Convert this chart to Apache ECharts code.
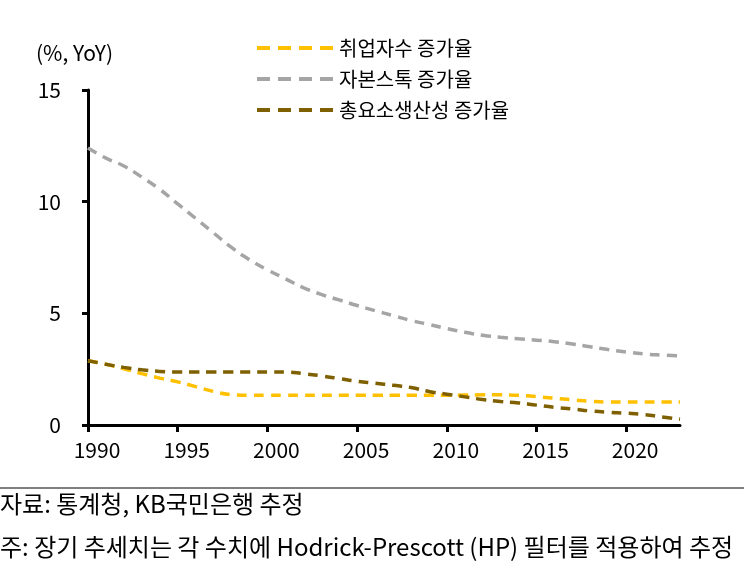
<!DOCTYPE html>
<html>
<head>
<meta charset="utf-8">
<script src="https://cdn.jsdelivr.net/npm/echarts@6/dist/echarts.min.js"></script>
<style>
    html, body { margin: 0; padding: 0; background: #fff; }
    #chart { width: 744px; height: 575px; }
</style>
</head>
<body>
<div id="chart"></div>
<script>
// 연도 (1990~2023)
const years = [1990, 1991, 1992, 1993, 1994, 1995, 1996, 1997, 1998, 1999,
    2000, 2001, 2002, 2003, 2004, 2005, 2006, 2007, 2008, 2009,
    2010, 2011, 2012, 2013, 2014, 2015, 2016, 2017, 2018, 2019,
    2020, 2021, 2022, 2023];

// 취업자수 증가율
const employment = [2.88, 2.72, 2.52, 2.3, 2.1, 1.93, 1.72, 1.5, 1.36, 1.33,
    1.33, 1.33, 1.33, 1.33, 1.33, 1.33, 1.33, 1.33, 1.33, 1.33,
    1.33, 1.34, 1.35, 1.35, 1.33, 1.27, 1.2, 1.13, 1.06, 1.03,
    1.03, 1.03, 1.03, 1.03];

// 자본스톡 증가율
const capital = [12.4, 11.95, 11.6, 11.1, 10.55, 9.9, 9.25, 8.6, 7.95, 7.4,
    6.95, 6.55, 6.15, 5.85, 5.6, 5.35, 5.12, 4.9, 4.68, 4.5,
    4.32, 4.15, 4.02, 3.93, 3.86, 3.8, 3.73, 3.63, 3.5, 3.38,
    3.27, 3.18, 3.13, 3.1];

// 총요소생산성 증가율
const tfp = [2.88, 2.72, 2.58, 2.47, 2.4, 2.37, 2.37, 2.37, 2.37, 2.37,
    2.37, 2.37, 2.3, 2.2, 2.08, 1.96, 1.87, 1.78, 1.68, 1.5,
    1.38, 1.26, 1.14, 1.05, 0.99, 0.89, 0.79, 0.72, 0.63, 0.57,
    0.53, 0.47, 0.36, 0.26];

const xTicks = [1990, 1995, 2000, 2005, 2010, 2015, 2020];
const yTicks = [0, 5, 10, 15];

const FONT = '"Noto Sans CJK KR", sans-serif';
const pairs = arr => years.map((y, i) => [y, arr[i]]);

const lineSeries = (name, data, color, z) => ({
    name, type: 'line', data: pairs(data), smooth: true, symbol: 'none', z,
    lineStyle: { color, width: 3.5, type: [10, 7] },
    itemStyle: { color },
    animation: false
});

const chart = echarts.init(document.getElementById('chart'), null, { renderer: 'canvas' });

chart.setOption({
    backgroundColor: '#fff',
    textStyle: { fontFamily: FONT },
    title: {
        text: '(%, YoY)', left: 31, top: 38,
        textStyle: { fontFamily: FONT, fontSize: 21, fontWeight: 'normal', color: '#000' }
    },
    legend: {
        orient: 'vertical', left: 250, top: 33,
        itemWidth: 76, itemHeight: 18, itemGap: 11,
        itemStyle: { opacity: 0 },
        lineStyle: { width: 4, type: [13, 8] },
        data: ['취업자수 증가율', '자본스톡 증가율', '총요소생산성 증가율'],
        textStyle: { fontFamily: FONT, fontSize: 20, color: '#000', padding: [0, 0, 0, 1] }
    },
    grid: { left: 88, right: 64, top: 90, bottom: 150 },
    xAxis: {
        type: 'value', min: 1990, max: 2023, interval: 5,
        splitLine: { show: false },
        axisLine: { lineStyle: { color: '#000', width: 3 } },
        axisTick: { show: true, length: 7, lineStyle: { color: '#000', width: 3 }, customValues: xTicks },
        axisLabel: {
            color: '#000', fontSize: 21, fontFamily: FONT, margin: 15, padding: [0, 0, 0, 18],
            customValues: xTicks, formatter: v => String(v)
        }
    },
    yAxis: {
        type: 'value', min: 0, max: 15, interval: 5,
        splitLine: { show: false },
        axisLine: { show: true, lineStyle: { color: '#000', width: 3 } },
        axisTick: { show: true, length: 6, lineStyle: { color: '#000', width: 3 }, customValues: yTicks },
        axisLabel: { color: '#000', fontSize: 21, fontFamily: FONT, margin: 27, customValues: yTicks }
    },
    series: [
        lineSeries('자본스톡 증가율', capital, '#A5A5A5', 2),
        lineSeries('취업자수 증가율', employment, '#FFC000', 3),
        lineSeries('총요소생산성 증가율', tfp, '#7F6000', 4)
    ],
    graphic: [
        { type: 'line', shape: { x1: 0, y1: 488, x2: 744, y2: 488 }, style: { stroke: '#000', lineWidth: 1 } },
        { type: 'text', left: 0, top: 492, style: { text: '자료: 통계청, KB국민은행 추정', font: '24px ' + FONT, fill: '#000' } },
        { type: 'text', left: 0, top: 535, style: { text: '주: 장기 추세치는 각 수치에 Hodrick-Prescott (HP) 필터를 적용하여 추정', font: '24px ' + FONT, fill: '#000' } }
    ]
});
</script>
</body>
</html>
